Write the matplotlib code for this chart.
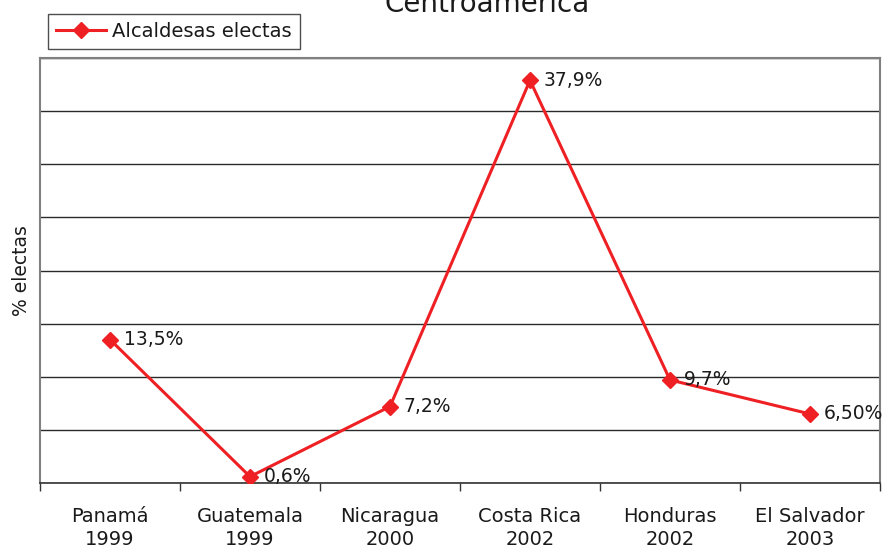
import numpy as np
import matplotlib.pyplot as plt

# Data
countries = ["Panamá", "Guatemala", "Nicaragua", "Costa Rica", "Honduras", "El Salvador"]
years = ["1999", "1999", "2000", "2002", "2002", "2003"]
pct = [13.5, 0.6, 7.2, 37.9, 9.7, 6.5]
pct_labels = ["13,5%", "0,6%", "7,2%", "37,9%", "9,7%", "6,50%"]

red = "#ee2024"
txt = "#1a1a1a"

fig = plt.figure(figsize=(8.85, 5.53), dpi=100)
ax = fig.add_axes([40 / 885, 1 - 483 / 553, 840 / 885, 425 / 553])

x = np.arange(len(countries))
ax.plot(x, pct, color=red, lw=2.2, marker="D", ms=8, mec=red, mfc=red,
        label="Alcaldesas electas", zorder=3)

for xi, yi, lab in zip(x, pct, pct_labels):
    ax.annotate(lab, (xi, yi), xytext=(10, 0), textcoords="offset points",
                ha="left", va="center", fontsize=13.5, color=txt, zorder=4)

ax.set_xlim(-0.5, len(countries) - 0.5)
ax.set_ylim(0, 40)
ax.set_yticks(np.arange(0, 41, 5))
ax.set_yticklabels([])
ax.tick_params(axis="y", length=0)
ax.yaxis.grid(True, color="#2a2a2a", lw=1.0)
ax.set_axisbelow(True)

# category axis: ticks sit between categories, labels centered
ax.set_xticks(np.arange(-0.5, len(countries), 1.0))
ax.set_xticklabels([])
ax.set_xticks(x, minor=True)
ax.set_xticklabels([f"{c}\n{y}" for c, y in zip(countries, years)], minor=True,
                   fontsize=14, color=txt, linespacing=1.3)
ax.tick_params(axis="x", which="major", direction="out", length=6, width=1, color="#333333")
ax.tick_params(axis="x", which="minor", length=0, pad=17)

for side in ["left", "top", "right"]:
    ax.spines[side].set_color("#808080")
    ax.spines[side].set_linewidth(1.5)
ax.spines["bottom"].set_color("#333333")
ax.spines["bottom"].set_linewidth(1.2)

ax.set_ylabel("% electas", fontsize=13.5, color=txt, labelpad=3)

leg = ax.legend(loc="upper left", bbox_to_anchor=(48 / 885, 1 - 14 / 553),
                bbox_transform=fig.transFigure, fontsize=14, frameon=True,
                fancybox=False, handlelength=2.6, handletextpad=0.3,
                borderpad=0.4, borderaxespad=0)
leg.get_frame().set_edgecolor("#222222")
leg.get_frame().set_linewidth(1.0)
for t in leg.get_texts():
    t.set_color(txt)

fig.text(487 / 885, 1 - 12 / 553, "Centroamérica", ha="center", va="baseline",
         fontsize=20, color=txt)

fig.savefig("out.png", dpi=100)
